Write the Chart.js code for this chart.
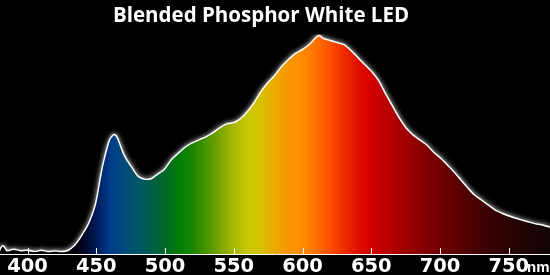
<!DOCTYPE html>
<html>
<head>
<meta charset="utf-8">
<script src="https://cdn.jsdelivr.net/npm/chart.js@4/dist/chart.umd.min.js"></script>
<style>
  html, body { margin: 0; padding: 0; background: #000; }
  #wrap { width: 550px; height: 275px; position: relative; }
</style>
</head>
<body>
<div id="wrap"><canvas id="myChart"></canvas></div>
<script>
// Spectrum (relative intensity, peak = 1)
const wavelengths = [380, 382, 385, 390, 395, 400, 405, 410, 415, 420, 425, 430, 435, 440, 445, 450, 455, 460, 463, 465, 470, 475, 480, 485, 490, 495, 500, 505, 510, 515, 520, 525, 530, 535, 540, 545, 550, 555, 560, 565, 570, 575, 580, 585, 590, 595, 600, 605, 610, 612, 615, 620, 625, 630, 635, 640, 645, 650, 655, 660, 665, 670, 675, 680, 685, 690, 695, 700, 705, 710, 715, 720, 725, 730, 735, 740, 745, 750, 755, 760, 765, 770, 775, 780];
const intensity = [0.012, 0.035, 0.012, 0.018, 0.012, 0.014, 0.008, 0.014, 0.008, 0.01, 0.008, 0.014, 0.04, 0.085, 0.14, 0.23, 0.40, 0.52, 0.545, 0.53, 0.45, 0.40, 0.355, 0.34, 0.342, 0.364, 0.387, 0.43, 0.46, 0.488, 0.507, 0.521, 0.535, 0.553, 0.576, 0.594, 0.60, 0.618, 0.65, 0.691, 0.742, 0.783, 0.816, 0.857, 0.889, 0.917, 0.935, 0.958, 0.99, 1.0, 0.986, 0.977, 0.968, 0.958, 0.931, 0.899, 0.866, 0.834, 0.793, 0.733, 0.677, 0.622, 0.576, 0.544, 0.521, 0.498, 0.465, 0.438, 0.406, 0.373, 0.336, 0.30, 0.267, 0.244, 0.221, 0.198, 0.184, 0.171, 0.161, 0.152, 0.143, 0.134, 0.129, 0.12];
const tickValues = [400, 450, 500, 550, 600, 650, 700, 750];
const titleText = 'Blended Phosphor White LED';
const unitText = 'nm';

// colour of the fill at each wavelength
const colourStops = [
  [380, '#000000'], [432, '#000000'], [440, '#02031f'], [450, '#001a5a'], [460, '#003c8c'],
  [470, '#004a7a'], [480, '#00566a'], [490, '#005e4a'], [500, '#006a28'], [510, '#007d05'],
  [520, '#1a8600'], [530, '#4a9400'], [540, '#7aa500'], [550, '#a8b800'], [560, '#c8c800'],
  [570, '#d8c000'], [580, '#ecaa00'], [590, '#f89600'], [600, '#ff8c00'], [610, '#ff7000'],
  [620, '#fc5000'], [630, '#f02c00'], [640, '#e01000'], [650, '#d40000'], [660, '#bc0000'],
  [680, '#960000'], [700, '#700000'], [720, '#500000'], [740, '#340204'], [760, '#200405'],
  [780, '#120304']
];

const points = wavelengths.map((w, i) => ({ x: w, y: intensity[i] }));

function spectrumFill(context) {
  const chart = context.chart;
  const area = chart.chartArea;
  if (!area) return 'transparent';
  const xs = chart.scales.x;
  const x0 = xs.getPixelForValue(380);
  const x1 = xs.getPixelForValue(780);
  const g = chart.ctx.createLinearGradient(x0, 0, x1, 0);
  colourStops.forEach(s => g.addColorStop((s[0] - 380) / 400, s[1]));
  return g;
}

const glowLine = {
  id: 'glowLine',
  beforeDatasetDraw(chart, args) {
    if (args.index !== 1) return;
    chart.ctx.save();
    chart.ctx.shadowColor = 'rgba(255,255,255,1)';
    chart.ctx.shadowBlur = 5;
  },
  afterDatasetDraw(chart, args) {
    if (args.index !== 1) return;
    chart.ctx.restore();
  }
};

// title sits a little left of centre in the original, tick marks point inward
const axisExtras = {
  id: 'axisExtras',
  afterDraw(chart) {
    const ctx = chart.ctx;
    const xs = chart.scales.x;
    const bottom = chart.chartArea.bottom;
    ctx.save();
    ctx.strokeStyle = '#ffffff';
    ctx.lineWidth = 1;
    tickValues.forEach(v => {
      const px = Math.round(xs.getPixelForValue(v)) + 0.5;
      ctx.beginPath();
      ctx.moveTo(px, bottom - 6);
      ctx.lineTo(px, bottom);
      ctx.stroke();
    });
    ctx.fillStyle = '#ffffff';
    ctx.textBaseline = 'alphabetic';
    ctx.font = 'bold 15px "Liberation Sans"';
    ctx.textAlign = 'left';
    ctx.fillText(unitText, 527, 272);
    ctx.font = 'bold 20.5px "Open Sans"';
    ctx.textAlign = 'center';
    ctx.fillText(titleText, 261, 22);
    ctx.restore();
  }
};

const ctx = document.getElementById('myChart').getContext('2d');
const myChart = new Chart(ctx, {
  type: 'line',
  data: {
    datasets: [{
      data: points,
      borderWidth: 0,
      pointRadius: 0,
      tension: 0.25,
      fill: 'origin',
      backgroundColor: spectrumFill
    }, {
      data: points,
      borderColor: '#ffffff',
      borderWidth: 3,
      pointRadius: 0,
      tension: 0.25,
      fill: false
    }]
  },
  options: {
    responsive: true,
    maintainAspectRatio: false,
    animation: false,
    layout: { padding: { left: 0, right: 0, top: 34, bottom: 0 } },
    plugins: {
      legend: { display: false },
      tooltip: { enabled: false },
      title: { display: false }
    },
    scales: {
      x: {
        type: 'linear',
        min: 380,
        max: 780,
        border: { display: true, color: '#ffffff', width: 1 },
        grid: { display: false, drawTicks: false },
        afterBuildTicks(scale) {
          scale.ticks = tickValues.map(v => ({ value: v }));
        },
        afterFit(scale) {
          scale.height = 21;
        },
        ticks: {
          color: '#ffffff',
          padding: 3,
          maxRotation: 0,
          autoSkip: false,
          font: { family: 'DejaVu Sans', size: 19.5, weight: 'bold', lineHeight: 1 }
        }
      },
      y: {
        display: false,
        min: 0,
        max: 1.01
      }
    }
  },
  plugins: [glowLine, axisExtras]
});
</script>
</body>
</html>
